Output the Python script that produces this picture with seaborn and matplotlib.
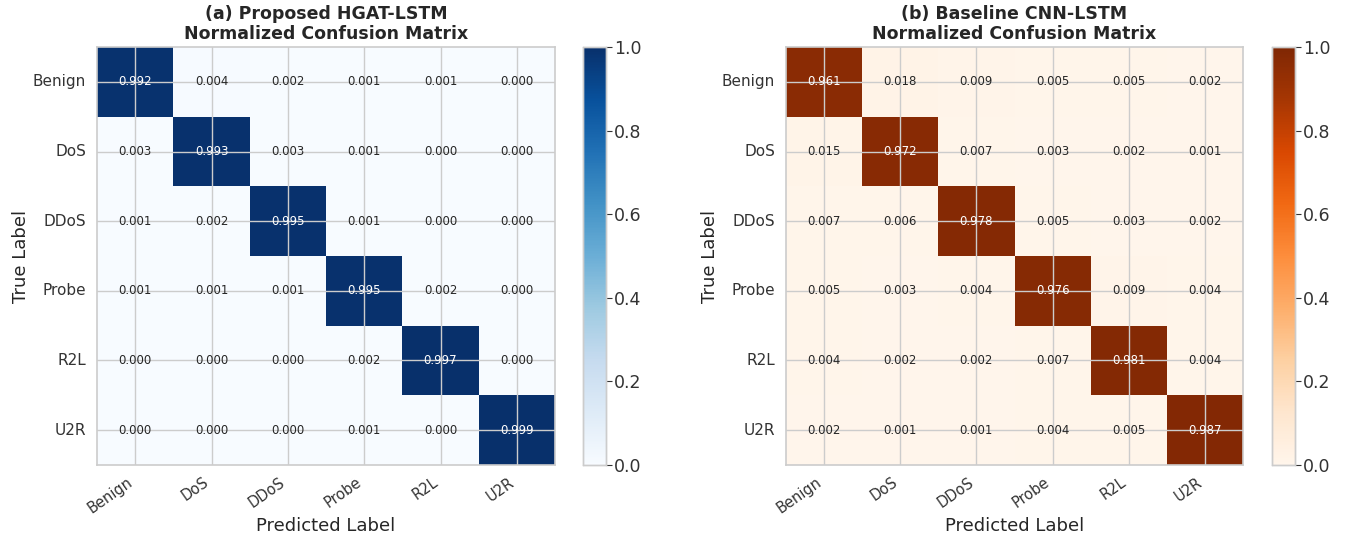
import numpy as np
import matplotlib
matplotlib.use("Agg")
import matplotlib.pyplot as plt
import seaborn as sns

classes = ["Benign", "DoS", "DDoS", "Probe", "R2L", "U2R"]

hgat_lstm = [
    [0.992, 0.004, 0.002, 0.001, 0.001, 0.000],
    [0.003, 0.993, 0.003, 0.001, 0.000, 0.000],
    [0.001, 0.002, 0.995, 0.001, 0.000, 0.000],
    [0.001, 0.001, 0.001, 0.995, 0.002, 0.000],
    [0.000, 0.000, 0.000, 0.002, 0.997, 0.000],
    [0.000, 0.000, 0.000, 0.001, 0.000, 0.999],
]

cnn_lstm = [
    [0.961, 0.018, 0.009, 0.005, 0.005, 0.002],
    [0.015, 0.972, 0.007, 0.003, 0.002, 0.001],
    [0.007, 0.006, 0.978, 0.005, 0.003, 0.002],
    [0.005, 0.003, 0.004, 0.976, 0.009, 0.004],
    [0.004, 0.002, 0.002, 0.007, 0.981, 0.004],
    [0.002, 0.001, 0.001, 0.004, 0.005, 0.987],
]

titles = [
    "(a) Proposed HGAT-LSTM\nNormalized Confusion Matrix",
    "(b) Baseline CNN-LSTM\nNormalized Confusion Matrix",
]
cmaps = ["Blues", "Oranges"]
cbar_ticks = [0.0, 0.2, 0.4, 0.6, 0.8, 1.0]

sns.set_style("whitegrid")
plt.rcParams["font.family"] = ["DejaVu Sans"]

fig = plt.figure(figsize=(13.47, 5.38), dpi=100)

W, H = 1347, 538
def rect(x0, x1, y0, y1):
    return [x0 / W, 1 - y1 / H, (x1 - x0) / W, (y1 - y0) / H]

layout = [
    (rect(97, 555, 47, 465), rect(583, 606, 47, 465)),
    (rect(786, 1243, 47, 465), rect(1272, 1295, 47, 465)),
]

grid_color = "#cccccc"
text_color = "#262626"

for data, title, cmap, (ax_r, cb_r) in zip([hgat_lstm, cnn_lstm], titles, cmaps, layout):
    ax = fig.add_axes(ax_r)
    cax = fig.add_axes(cb_r)
    sns.heatmap(
        np.array(data), ax=ax, cbar_ax=cax, cmap=cmap, vmin=0, vmax=1,
        annot=True, fmt=".3f", annot_kws={"fontsize": 8.5},
        xticklabels=classes, yticklabels=classes, square=False,
    )
    # grid through the cell centres, drawn over the colour mesh
    ax.set_axisbelow(False)
    ax.grid(True, color=grid_color, linewidth=1)
    for s in ax.spines.values():
        s.set_visible(True)
        s.set_color(grid_color)
        s.set_linewidth(1.2)
    ax.tick_params(axis="both", length=0, colors="#333333")
    ax.tick_params(axis="y", pad=8)
    ax.tick_params(axis="x", pad=7)
    ax.set_yticklabels(classes, rotation=0, fontsize=11, color="#333333")
    ax.set_xticklabels(classes, rotation=35, ha="right", fontsize=10.5, color="#333333")
    ax.set_title(title, fontsize=12.5, fontweight="bold", color=text_color, pad=6,
                 linespacing=1.1)
    ax.set_xlabel("Predicted Label", fontsize=13, color=text_color)
    ax.set_ylabel("True Label", fontsize=13, color=text_color, labelpad=2)
    ax.xaxis.set_label_coords(0.5, -0.125)

    cax.set_yticks(cbar_ticks)
    cax.set_yticklabels([f"{t:.1f}" for t in cbar_ticks])
    cax.tick_params(axis="y", right=True, length=4, width=0.8, colors="#333333",
                    labelsize=12.5, pad=2)
    cax.grid(False)
    for s in cax.spines.values():
        s.set_visible(True)
        s.set_color(grid_color)
        s.set_linewidth(1)

fig.savefig("out.png", dpi=100)
